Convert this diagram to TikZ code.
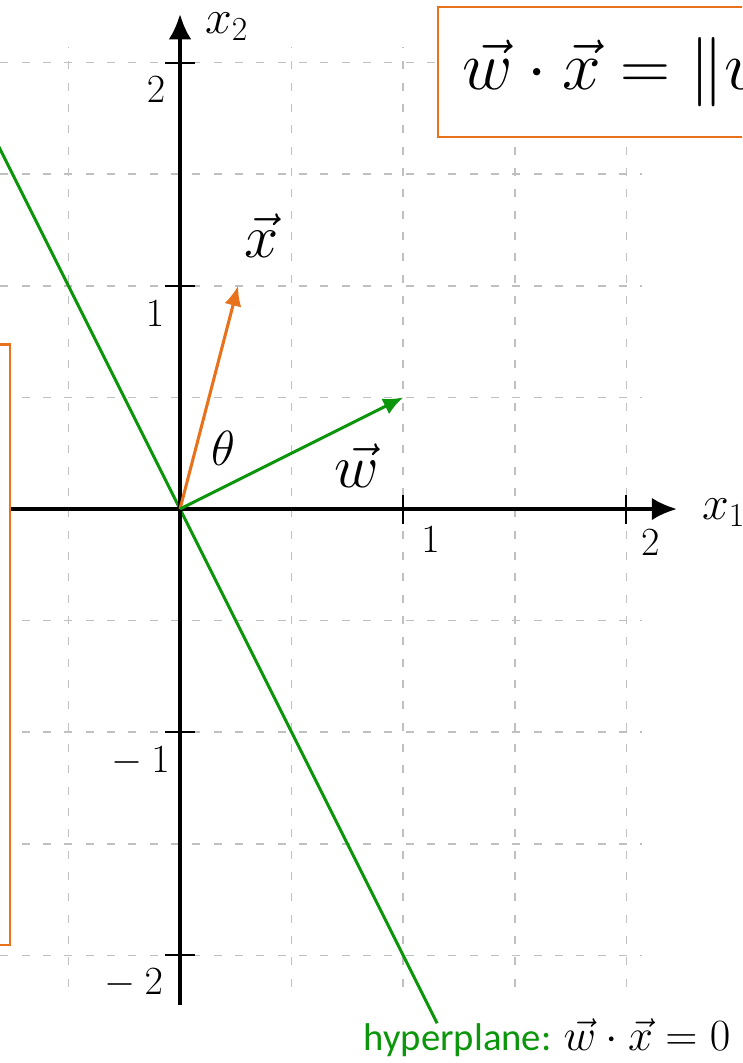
\RequirePackage{fix-cm}
\documentclass[tikz,border=0pt]{standalone}
\usepackage{fontspec}
\newfontfamily\calibri{Carlito}
\usetikzlibrary{arrows.meta}
\definecolor{hgreen}{RGB}{12,150,12}
\definecolor{vorange}{RGB}{232,114,28}
\definecolor{gridgray}{RGB}{192,192,192}
\tikzset{
  gridline/.style={draw=gridgray, line width=1.1pt, dash pattern=on 6pt off 10pt},
  axisline/.style={draw=black, line width=3pt, -{Latex[length=19pt,width=17pt]}},
  tickline/.style={draw=black, line width=1.6pt},
  ticklabel/.style={inner sep=0pt, font=\fontsize{30}{35}\selectfont},
  axislabel/.style={inner sep=0pt, anchor=base west, font=\fontsize{36}{41}\selectfont},
  vecarrow/.style={line width=2.3pt, -{Latex[length=15pt,width=13pt]}},
  veclabel/.style={inner sep=0pt, font=\fontsize{46}{52}\selectfont},
  obox/.style={draw=vorange, line width=1.6pt, fill=white},
  hyper/.style={draw=hgreen, line width=2.3pt}
}
\begin{document}
\begin{tikzpicture}[x=167.4pt,y=167.4pt]
\useasboundingbox (-0.8065,-2.482) rectangle (2.518,2.2805);
\clip (-0.8065,-2.482) rectangle (2.518,2.2805);
% grid
\draw[gridline] (-0.9,-2.14) grid[xstep=0.5,ystep=0.5] (2.07,2.07);
% coordinates
\coordinate (O) at (0,0);
\coordinate (W) at (1,0.5);
\coordinate (X) at (0.26,1.0);
\coordinate (H1) at (-0.92,1.84);
\coordinate (H2) at (1.152,-2.304);
\coordinate (XL) at (-0.9,0);
\coordinate (XR) at (2.227,0);
\coordinate (YB) at (0,-2.222);
\coordinate (YT) at (0,2.218);
% hyperplane
\draw[hyper] (H1) -- (H2);
% axes
\draw[axisline] (XL) -- (XR);
\draw[axisline] (YB) -- (YT);
% ticks
\foreach \t in {1,2} {
  \coordinate (xta\t) at (\t,-0.065);
  \coordinate (xtb\t) at (\t,0.065);
  \draw[tickline] (xta\t) -- (xtb\t);
}
\foreach \t in {-2,-1,1,2} {
  \coordinate (yta\t) at (-0.068,\t);
  \coordinate (ytb\t) at (0.068,\t);
  \draw[tickline] (yta\t) -- (ytb\t);
}
\node[ticklabel, anchor=north west] (tx1) at (1.08,-0.08) {$1$};
\node[ticklabel, anchor=north west] (tx2) at (2.065,-0.09) {$2$};
\node[ticklabel, anchor=north east] (ty2) at (-0.065,1.94) {$2$};
\node[ticklabel, anchor=north east] (ty1) at (-0.07,0.935) {$1$};
\node[ticklabel, anchor=north east] (tym1) at (-0.045,-1.065) {${}-1$};
\node[ticklabel, anchor=north east] (tym2) at (-0.075,-2.06) {${}-2$};
% axis labels
\node[axislabel] (lx1) at (2.338,-0.045) {$x_1$};
\node[axislabel] (lx2) at (0.112,2.13) {$x_2$};
% vectors
\draw[vecarrow, draw=vorange, fill=vorange] (O) -- (X);
\draw[vecarrow, draw=hgreen, fill=hgreen] (O) -- (W);
\node[veclabel] (lxv) at (0.367,1.223) {$\vec x$};
\node[veclabel] (lwv) at (0.793,0.193) {$\vec w$};
\node[inner sep=0pt, font=\fontsize{37}{42}\selectfont] (lth) at (0.193,0.273) {$\theta$};
% hyperplane label
\node[inner sep=0pt, anchor=base west, text=hgreen] (hlabel) at (0.822,-2.424)
  {{\calibri\fontsize{29}{34}\selectfont hyperplane:}\hspace{9pt}{\fontsize{33.5}{38}\selectfont\color{black}$\vec w\cdot\vec x=0$}};
% boxes
\node[obox, anchor=north east, minimum width=300pt, minimum height=450.5pt] (leftbox) at (-0.758,0.742) {};
\node[obox, anchor=north west, minimum height=97.6pt, inner xsep=18pt, font=\fontsize{52}{58}\selectfont] (formula) at (1.151,2.254)
  {$\vec w\cdot\vec x=\|\vec w\|\,\|\vec x\|\cos\theta$};
\end{tikzpicture}
\end{document}
